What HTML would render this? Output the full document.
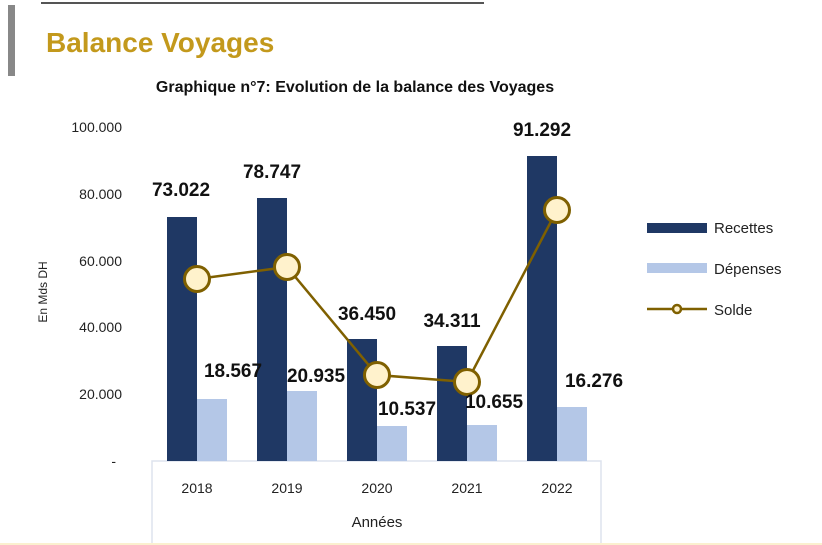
<!DOCTYPE html>
<html><head><meta charset="utf-8"><style>
html,body{margin:0;padding:0;background:#fff;width:822px;height:545px;overflow:hidden}
svg text{font-family:"Liberation Sans",sans-serif}
</style></head><body>
<svg width="822" height="545" xmlns="http://www.w3.org/2000/svg">
<line x1="41" y1="3" x2="484" y2="3" stroke="#555" stroke-width="2"/>
<rect x="8" y="5" width="7" height="71" fill="#888"/>
<text x="46" y="52" font-size="28" font-weight="bold" fill="#c3991c">Balance Voyages</text>
<text x="355" y="92" font-size="16" font-weight="bold" text-anchor="middle" fill="#111">Graphique n°7: Evolution de la balance des Voyages</text>
<g font-size="14" fill="#222" text-anchor="end">
<text x="122" y="132">100.000</text>
<text x="122" y="199">80.000</text>
<text x="122" y="266">60.000</text>
<text x="122" y="332">40.000</text>
<text x="122" y="399">20.000</text>
<text x="116" y="466">-</text>
</g>
<text transform="translate(47,292) rotate(-90)" font-size="12" fill="#222" text-anchor="middle">En Mds DH</text>
<path d="M152 545 V461 H601 V545" fill="none" stroke="#dde3ee" stroke-width="1.5"/>
<g fill="#1f3864">
<rect x="167" y="217" width="30" height="244"/>
<rect x="257" y="198" width="30" height="263"/>
<rect x="347" y="339" width="30" height="122"/>
<rect x="437" y="346" width="30" height="115"/>
<rect x="527" y="156" width="30" height="305"/>
</g>
<g fill="#b4c7e7">
<rect x="197" y="399" width="30" height="62"/>
<rect x="287" y="391" width="30" height="70"/>
<rect x="377" y="426" width="30" height="35"/>
<rect x="467" y="425" width="30" height="36"/>
<rect x="557" y="407" width="30" height="54"/>
</g>
<polyline points="197,279 287,267 377,375 467,382 557,210" fill="none" stroke="#7f6000" stroke-width="2.5"/>
<g fill="#fff2cc" stroke="#7f6000" stroke-width="3">
<circle cx="197" cy="279" r="12.5"/><circle cx="287" cy="267" r="12.5"/><circle cx="377" cy="375" r="12.5"/><circle cx="467" cy="382" r="12.5"/><circle cx="557" cy="210" r="12.5"/>
</g>
<g font-size="19" font-weight="bold" fill="#111" text-anchor="middle">
<text x="181" y="196">73.022</text>
<text x="272" y="178">78.747</text>
<text x="367" y="320">36.450</text>
<text x="452" y="327">34.311</text>
<text x="542" y="136">91.292</text>
<text x="233" y="377">18.567</text>
<text x="316" y="382">20.935</text>
<text x="407" y="415">10.537</text>
<text x="494" y="408">10.655</text>
<text x="594" y="387">16.276</text>
</g>
<g font-size="14" fill="#222" text-anchor="middle">
<text x="197" y="493">2018</text><text x="287" y="493">2019</text><text x="377" y="493">2020</text><text x="467" y="493">2021</text><text x="557" y="493">2022</text>
<text x="377" y="527" font-size="15">Années</text>
</g>
<rect x="647" y="223" width="60" height="10" fill="#1f3864"/>
<rect x="647" y="263" width="60" height="10" fill="#b4c7e7"/>
<line x1="647" y1="309" x2="707" y2="309" stroke="#7f6000" stroke-width="2.5"/>
<circle cx="677" cy="309" r="4" fill="#fff2cc" stroke="#7f6000" stroke-width="2.5"/>
<g font-size="15" fill="#222">
<text x="714" y="233">Recettes</text>
<text x="714" y="274">Dépenses</text>
<text x="714" y="315">Solde</text>
</g>
<line x1="0" y1="544" x2="822" y2="544" stroke="#fbf0cf" stroke-width="2"/>
</svg>
</body></html>
